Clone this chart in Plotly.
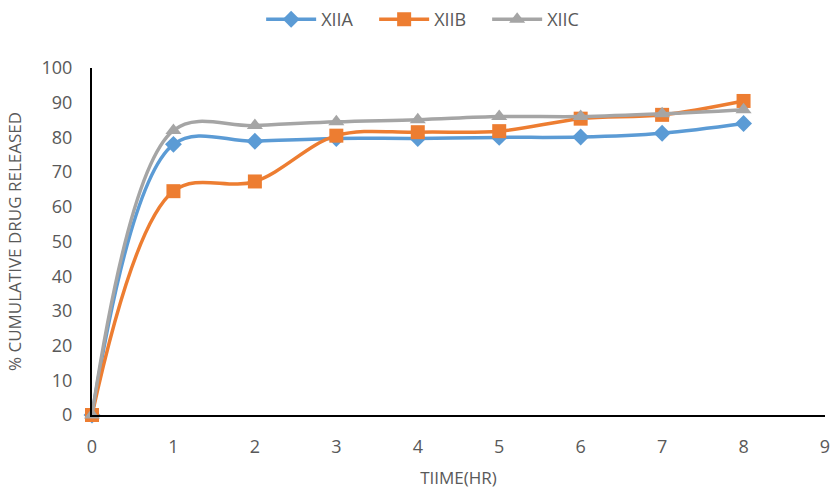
import plotly.graph_objects as go

time_hr = [0, 1, 2, 3, 4, 5, 6, 7, 8]
xiia = [0, 78.0, 78.9, 79.7, 79.7, 80.0, 80.1, 81.2, 84.0]
xiib = [0, 64.5, 67.3, 80.5, 81.5, 81.8, 85.4, 86.5, 90.5]
xiic = [0, 82.0, 83.4, 84.5, 85.1, 86.0, 86.0, 86.8, 88.0]

series = [
    ("XIIA", xiia, "#5B9BD5", "diamond", 13),
    ("XIIB", xiib, "#ED7D31", "square", 14),
    ("XIIC", xiic, "#A5A5A5", "triangle-up", 14),
]

fig = go.Figure()
for name, vals, color, sym, sz in series:
    fig.add_trace(go.Scatter(
        x=time_hr, y=vals, name=name, mode="lines+markers",
        line=dict(color=color, width=3.5, shape="spline", smoothing=1.0),
        marker=dict(symbol=sym, size=sz, color=color),
        cliponaxis=False,
    ))

font_family = "Open Sans, Liberation Sans, sans-serif"
fig.update_layout(
    width=836, height=491,
    margin=dict(l=92, r=6, t=68, b=72),
    paper_bgcolor="white", plot_bgcolor="white",
    font=dict(family=font_family, color="#595959", size=17),
    legend=dict(orientation="h", x=0.462, xanchor="center",
                yref="container", y=0.998, yanchor="top",
                font=dict(size=18), itemwidth=50, entrywidth=48),
    xaxis=dict(range=[0, 9], dtick=1, showgrid=False, zeroline=False,
               showline=True, linecolor="black", linewidth=2,
               ticks="", ticklabelstandoff=14,
               title=dict(text="TIIME(HR)", font=dict(size=17), standoff=16),
               tickfont=dict(size=18)),
    yaxis=dict(range=[0, 100], dtick=10, showgrid=False, zeroline=False,
               showline=True, linecolor="black", linewidth=2,
               ticks="", ticklabelstandoff=14,
               title=dict(text="% CUMULATIVE DRUG RELEASED", font=dict(size=17), standoff=16),
               tickfont=dict(size=18)),
)

fig.write_html("out.html")
